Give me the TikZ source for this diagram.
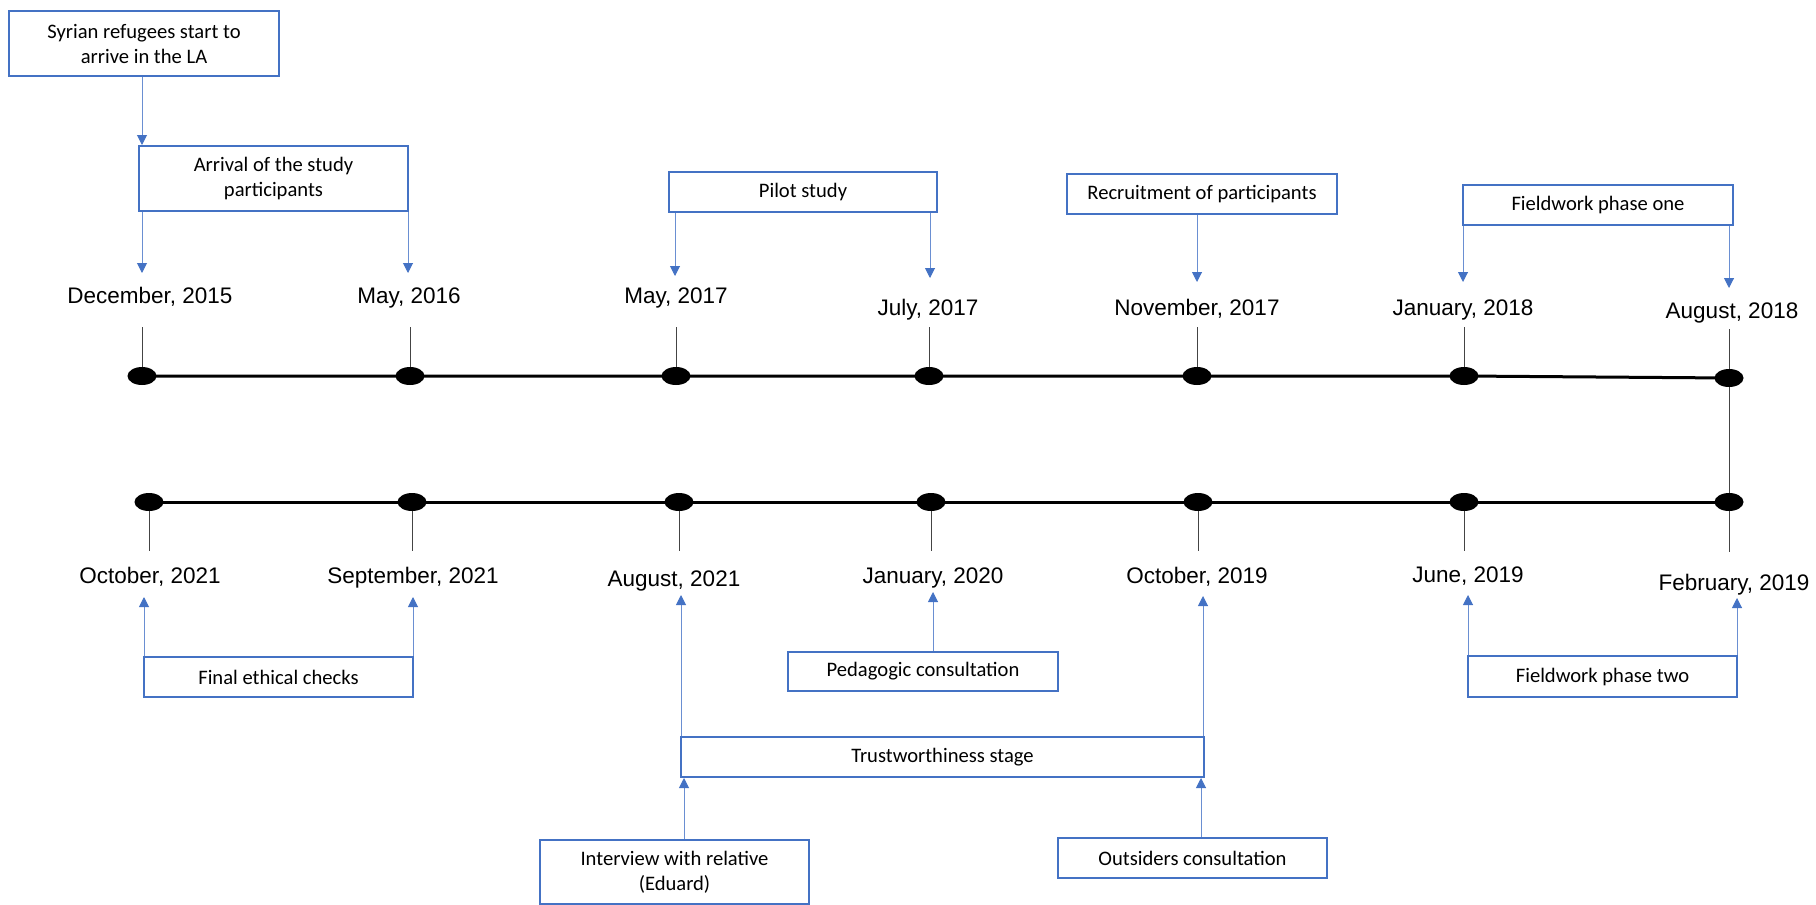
\documentclass[tikz,border=0pt]{standalone}
\usepackage{fontspec}
\setmainfont{Carlito}
\newfontfamily\datefont{Liberation Sans}
\usetikzlibrary{arrows.meta,shapes.geometric}
\definecolor{boxblue}{HTML}{4472C4}
\definecolor{linkblue}{HTML}{6A8FD2}
\definecolor{tickgray}{HTML}{444444}

\begin{document}
\begin{tikzpicture}[x=1pt,y=-1pt,
  stagebox/.style={draw=boxblue, line width=1.6pt, align=center, inner sep=0pt,
                   font=\fontsize{20.6}{25}\selectfont},
  datelabel/.style={font=\datefont\fontsize{22.5}{27}\selectfont, anchor=base, inner sep=0pt},
  dot/.style={ellipse, fill=black, minimum width=29pt, minimum height=18pt, inner sep=0pt},
  axis/.style={line width=3pt, black},
  tickline/.style={line width=0.9pt, tickgray},
  link/.style={line width=1pt, linkblue, -{Triangle[width=10pt,length=10pt,fill=boxblue,color=boxblue]}},
]
\useasboundingbox (0,0) rectangle (1816,905);

% ---- timeline points (upper row: 2015-2018, lower row: 2019-2021) ----
\coordinate (t1) at (142,376);
\coordinate (t2) at (410,376);
\coordinate (t3) at (676,376);
\coordinate (t4) at (929,376);
\coordinate (t5) at (1197,376);
\coordinate (t6) at (1464,376);
\coordinate (t7) at (1729,378);
\coordinate (b1) at (149,502);
\coordinate (b2) at (412,502);
\coordinate (b3) at (679,502);
\coordinate (b4) at (931,502);
\coordinate (b5) at (1198,502);
\coordinate (b6) at (1464,502);
\coordinate (b7) at (1729,502);

% tick ends near the date labels
\coordinate (k1) at (142,327);
\coordinate (k2) at (410,327);
\coordinate (k3) at (676,327);
\coordinate (k4) at (929,327);
\coordinate (k5) at (1197,327);
\coordinate (k6) at (1464,327);
\coordinate (k7) at (1729,329);
\coordinate (m1) at (149,551);
\coordinate (m2) at (412,551);
\coordinate (m3) at (679,551);
\coordinate (m4) at (931,551);
\coordinate (m5) at (1198,551);
\coordinate (m6) at (1464,551);
\coordinate (m7) at (1729,552);

\foreach \i in {1,...,6} {
  \draw[tickline] (k\i) -- (t\i);
  \draw[tickline] (b\i) -- (m\i);
}
\draw[tickline] (k7) -- (t7) -- (b7) -- (m7);

\draw[axis] (t1) -- (t2) -- (t3) -- (t4) -- (t5) -- (t6) -- (t7);
\draw[axis] (b1) -- (b2) -- (b3) -- (b4) -- (b5) -- (b6) -- (b7);

\foreach \p in {t1,t2,t3,t4,t5,t6,t7,b1,b2,b3,b4,b5,b6,b7}
  \node[dot] (d\p) at (\p) {};

% ---- date labels ----
\node[datelabel] (lDec15) at (150,303) {December, 2015};
\node[datelabel] (lMay16) at (409,303) {May, 2016};
\node[datelabel] (lMay17) at (676,303) {May, 2017};
\node[datelabel] (lJul17) at (928,315) {July, 2017};
\node[datelabel] (lNov17) at (1197,315) {November, 2017};
\node[datelabel] (lJan18) at (1463,315) {January, 2018};
\node[datelabel] (lAug18) at (1732,318) {August, 2018};
\node[datelabel] (lOct21) at (150,583) {October, 2021};
\node[datelabel] (lSep21) at (413,583) {September, 2021};
\node[datelabel] (lAug21) at (674,586) {August, 2021};
\node[datelabel] (lJan20) at (933,583) {January, 2020};
\node[datelabel] (lOct19) at (1197,583) {October, 2019};
\node[datelabel] (lJun19) at (1468,582) {June, 2019};
\node[datelabel] (lFeb19) at (1734,590) {February, 2019};

% ---- stage boxes ----
\node[stagebox, minimum width=270pt, minimum height=65pt] (syr) at (144,43.5)
  {Syrian refugees start to\\arrive in the LA};
\node[stagebox, minimum width=269pt, minimum height=65pt] (arr) at (273.5,178.5)
  {Arrival of the study\\participants};
\node[stagebox, minimum width=268pt, minimum height=40pt] (pil) at (803,192) {Pilot study};
\node[stagebox, minimum width=270pt, minimum height=40pt] (rec) at (1202,194) {Recruitment of participants};
\node[stagebox, minimum width=270pt, minimum height=40pt] (fw1) at (1598,205) {Fieldwork phase one};
\node[stagebox, minimum width=269pt, minimum height=40pt] (fin) at (278.5,677) {Final ethical checks};
\node[stagebox, minimum width=270pt, minimum height=39pt] (ped) at (923,671.5) {Pedagogic consultation};
\node[stagebox, minimum width=523pt, minimum height=40pt] (tru) at (942.5,757) {Trustworthiness stage};
\node[stagebox, minimum width=269pt, minimum height=64pt] (int) at (674.5,872)
  {Interview with relative\\(Eduard)};
\node[stagebox, minimum width=269pt, minimum height=40pt] (out) at (1192.5,858) {Outsiders consultation};
\node[stagebox, minimum width=269pt, minimum height=41pt] (fw2) at (1602.5,676.5) {Fieldwork phase two};

% ---- arrow tips ----
\coordinate (aSyr) at (142,145);
\coordinate (aDec15) at (142,273);
\coordinate (aMay16) at (408,273);
\coordinate (aMay17) at (675,276);
\coordinate (aJul17) at (930,278);
\coordinate (aNov17) at (1197,282);
\coordinate (aJan18) at (1463,282);
\coordinate (aAug18) at (1729,288);
\coordinate (aOct21) at (144,597);
\coordinate (aSep21) at (413,597);
\coordinate (aAug21) at (681,595);
\coordinate (aJan20) at (933,592);
\coordinate (aOct19) at (1203,596);
\coordinate (aTruL) at (684,778);
\coordinate (aTruR) at (1201,778);
\coordinate (aJun19) at (1468,595);
\coordinate (aFeb19) at (1737,598);

% ---- connectors ----
\draw[link] (syr.south -| aSyr) -- (aSyr);
\draw[link] (arr.south -| aDec15) -- (aDec15);
\draw[link] (arr.south -| aMay16) -- (aMay16);
\draw[link] (pil.south -| aMay17) -- (aMay17);
\draw[link] (pil.south -| aJul17) -- (aJul17);
\draw[link] (rec.south -| aNov17) -- (aNov17);
\draw[link] (fw1.south -| aJan18) -- (aJan18);
\draw[link] (fw1.south -| aAug18) -- (aAug18);
\draw[link] (fin.north -| aOct21) -- (aOct21);
\draw[link] (fin.north -| aSep21) -- (aSep21);
\draw[link] (tru.north -| aAug21) -- (aAug21);
\draw[link] (tru.north -| aOct19) -- (aOct19);
\draw[link] (ped.north -| aJan20) -- (aJan20);
\draw[link] (int.north -| aTruL) -- (aTruL);
\draw[link] (out.north -| aTruR) -- (aTruR);
\draw[link] (fw2.north -| aJun19) -- (aJun19);
\draw[link] (fw2.north -| aFeb19) -- (aFeb19);
\end{tikzpicture}
\end{document}
